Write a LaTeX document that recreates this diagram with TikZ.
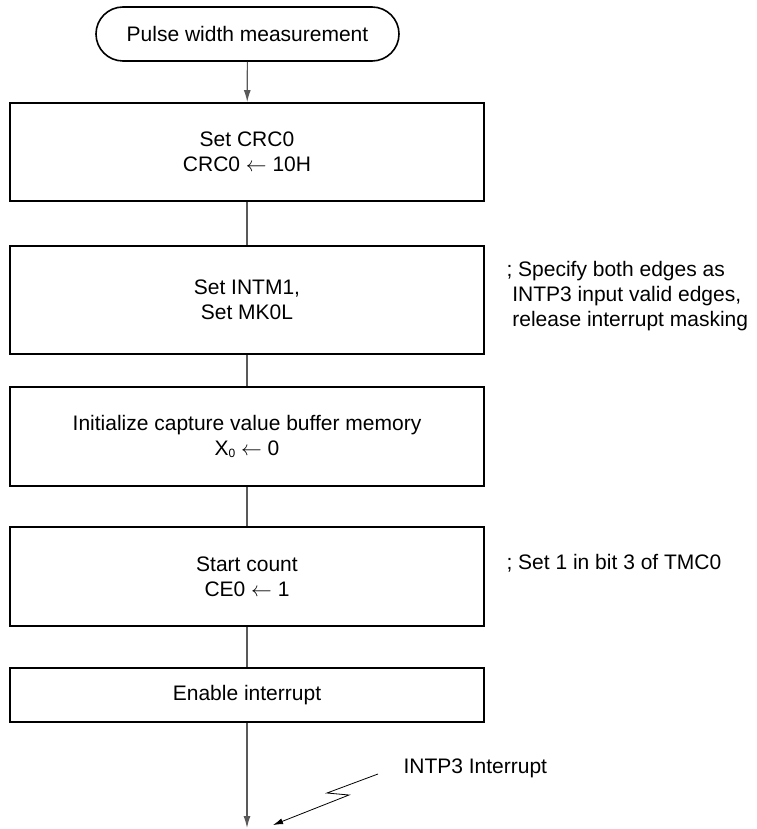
\documentclass[tikz,border=0pt]{standalone}
\usepackage{fontspec}
\setmainfont{Liberation Sans}
\usetikzlibrary{arrows.meta}
\tikzset{
  stepbox/.style={draw, line width=1.8pt, minimum width=474pt, align=center},
  link/.style={draw=black!65, line width=1.2pt},
  note/.style={anchor=west, align=left}
}
\begin{document}
\begin{tikzpicture}[x=1pt,y=-1pt,>={Latex[length=12pt,width=7pt]},
    font=\fontsize{21}{25}\selectfont]
    \useasboundingbox (0,0) rectangle (756,829);
    % Inicio
    \node[draw, line width=1.6pt, rounded corners=27pt, minimum width=303pt,
      minimum height=54pt] (start) at (247.5,34) {Pulse width measurement};
    % Pasos
    \node[stepbox, minimum height=98pt] (crc) at (247,152)
      {Set CRC0\\CRC0 $\leftarrow$ 10H};
    \node[stepbox, minimum height=108pt] (intm) at (247,300)
      {Set INTM1,\\Set MK0L};
    \node[stepbox, minimum height=99pt] (buf) at (247,436.5)
      {Initialize capture value buffer memory\\
       X\raisebox{-2pt}{\fontsize{12}{12}\selectfont 0} $\leftarrow$ 0};
    \node[stepbox, minimum height=99pt] (cnt) at (247,576.5)
      {Start count\\CE0 $\leftarrow$ 1};
    \node[stepbox, minimum height=54pt] (ena) at (247,695) {Enable interrupt};
    % Comentarios
    \node[note] (noteintm) at (503,296)
      {; Specify both edges as\\
       \hphantom{;}INTP3 input valid edges,\\
       \hphantom{;}release interrupt masking};
    \node[note] (notecnt) at (503,563) {; Set 1 in bit 3 of TMC0};
    % Conexiones
    \draw[link,->] (start) -- (crc);
    \draw[link] (crc) -- (intm);
    \draw[link] (intm) -- (buf);
    \draw[link] (buf) -- (cnt);
    \draw[link] (cnt) -- (ena);
    \coordinate (fin) at (247,828);
    \draw[link,->] (ena) -- (fin);
    % Interrupcion
    \node[anchor=west] (intlbl) at (400,768) {INTP3 Interrupt};
    \coordinate (zz1) at (378,774);
    \coordinate (zz2) at (327,793);
    \coordinate (zz3) at (349,795);
    \coordinate (zzend) at (273,825);
    \draw[line width=0.8pt,-{Latex[length=10pt,width=6pt]}]
      (zz1) -- (zz2) -- (zz3) -- (zzend);
\end{tikzpicture}
\end{document}
